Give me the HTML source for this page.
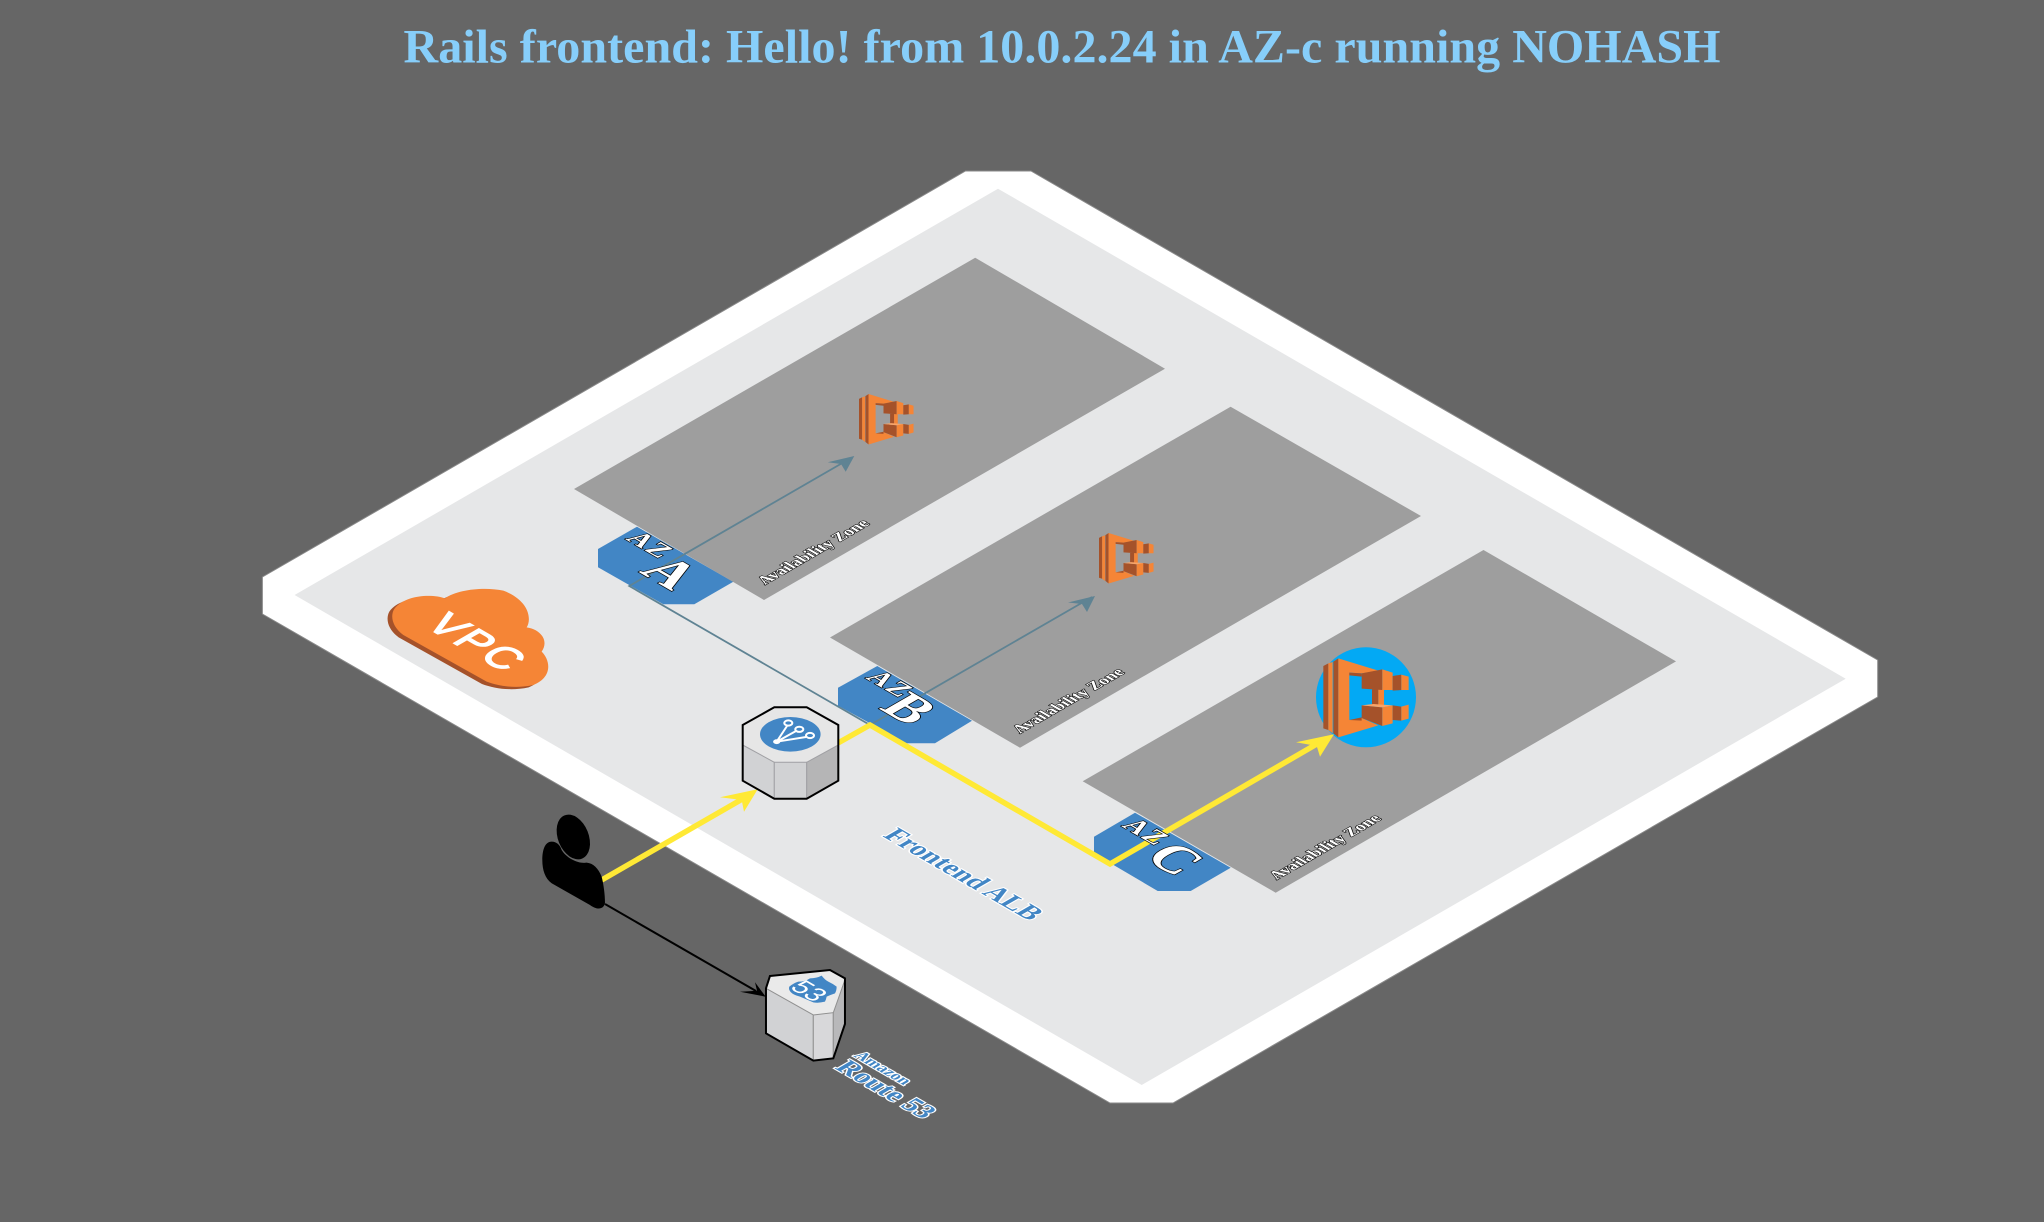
<!DOCTYPE html>
<html>
<head>
<meta charset="utf-8">
<style>
html,body{margin:0;padding:0;background:#666;width:2044px;height:1222px;overflow:hidden}
svg{display:block}
text{font-family:"Liberation Serif",serif;font-weight:bold}
.az{fill:#fff;stroke:#000;stroke-width:1.6px;paint-order:stroke}
.av{fill:#fff;stroke:#000;stroke-width:1.3px;paint-order:stroke}
.blue{fill:#4286c5;stroke:#fff;stroke-width:2.6px;paint-order:stroke}
</style>
</head>
<body>
<svg width="2044" height="1222" viewBox="0 0 2044 1222" xmlns="http://www.w3.org/2000/svg">
<defs>
<g id="ecs">
<path d="M40 78L55 70V270L40 265Z" fill="#a5522a"/>
<path d="M55 70L68 66V280L55 270Z" fill="#f58536"/>
<path d="M70 65L85 55V292L70 280Z" fill="#a5522a"/>
<path d="M85 55L205 92L155 100L118 98V240L155 234L205 256L85 292Z" fill="#f58536"/>
<path d="M118 98L155 100V110L118 106Z" fill="#a5522a"/>
<path d="M118 240L155 232V242L118 240Z" fill="#a5522a"/>
<path d="M186 148H205V196H186Z" fill="#a5522a"/>
<path d="M205 148H222V196H205Z" fill="#f58536"/>
<path d="M155 100L217 88V150L155 146Z" fill="#a5522a"/>
<path d="M217 88L248 98V150L217 150Z" fill="#f58536"/>
<path d="M248 108L274 104V150L248 152Z" fill="#a5522a"/>
<path d="M274 104L296 110V150L274 150Z" fill="#f58536"/>
<path d="M155 196L217 202V258L155 234Z" fill="#a5522a"/>
<path d="M217 202L248 196V250L217 258Z" fill="#f58536"/>
<path d="M155 196L190 192L248 196L217 202Z" fill="#f9a468"/>
<path d="M248 196L274 200V242L248 240Z" fill="#a5522a"/>
<path d="M274 200L296 194V236L274 242Z" fill="#f58536"/>
</g>
</defs>

<rect width="2044" height="1222" fill="#666"/>

<text x="1062" y="62.5" text-anchor="middle" font-size="48" fill="#87cefa" textLength="1317" lengthAdjust="spacing">Rails frontend: Hello! from 10.0.2.24 in AZ-c running NOHASH</text>

<!-- VPC plate -->
<polygon points="965.5,171 1031,171 1877.7,660 1877.7,697 1173,1103 1110,1103 262.4,614 262.4,577" fill="#fff" stroke="#8a8a8a" stroke-width="1"/>
<polygon points="998,188.7 1845.7,678.7 1141.7,1085 294.6,595" fill="#e6e7e8"/>

<!-- AZ tags -->
<polygon points="598,549 637,526.7 733.3,581.7 694.3,604.3 663.3,604.3 598,567.3" fill="#4286c5"/>
<polygon points="838,687.7 877.3,666 972,720.7 935,743.3 906.7,743.3 838,705.7" fill="#4286c5"/>
<polygon points="1094,836.7 1135,812.7 1230.7,867.7 1190.7,891 1157.7,891 1094,853.5" fill="#4286c5"/>

<!-- AZ plates -->
<polygon points="975.2,257.7 1165,368.7 764,600 574,489" fill="#9e9e9e"/>
<polygon points="1230.6,406.7 1421,516 1020,747.7 830,637.5" fill="#9e9e9e"/>
<polygon points="1483.5,550 1676,661.4 1275.7,892.7 1082.7,781.3" fill="#9e9e9e"/>

<!-- ECS icons -->
<use href="#ecs" transform="translate(859,394) scale(.213) translate(-40,-55)"/>
<use href="#ecs" transform="translate(1099,533) scale(.213) translate(-40,-55)"/>
<circle cx="1366" cy="697.3" r="50" fill="#03a9f4"/>
<use href="#ecs" transform="translate(1310,640) scale(.3333)"/>

<!-- gray connectors -->
<g fill="none" stroke="#5f8393" stroke-width="1.8">
<path d="M851 458L629.3 586L870 725L1092 597"/>
</g>
<polygon points="854.3,456 827.7,462.3 841,464 845.7,471.7" fill="#5f8393"/>
<polygon points="1095,596 1068,602.5 1082,604 1087,612" fill="#5f8393"/>

<!-- yellow connectors -->
<path d="M601.7 880L745 797.5" fill="none" stroke="#ffe935" stroke-width="5.5"/>
<polygon points="757.7,789.3 720,797.3 741.7,800 744,811.7" fill="#ffe935"/>
<path d="M838 743L870 725L1110 864L1322 741" fill="none" stroke="#ffe935" stroke-width="5.5"/>
<polygon points="1334,734.3 1296,742.3 1316.7,746 1320,756.7" fill="#ffe935"/>

<!-- Availability Zone labels -->
<text class="av" font-size="16.6" transform="matrix(.866,-.5,.866,.5,765,585)">Availability Zone</text>
<text class="av" font-size="16.6" transform="matrix(.866,-.5,.866,.5,1020,733.7)">Availability Zone</text>
<text class="av" font-size="16.6" transform="matrix(.866,-.5,.866,.5,1276.7,880)">Availability Zone</text>

<!-- AZ letters -->
<text class="az" font-size="27" letter-spacing="2" transform="matrix(.866,.5,-.866,.5,625,539)">AZ</text>
<text class="az" font-size="54" transform="matrix(.866,.5,-.866,.5,638.3,571.7)">A</text>
<text class="az" font-size="27" letter-spacing="2" transform="matrix(.866,.5,-.866,.5,865,678)">AZ</text>
<text class="az" font-size="54" transform="matrix(.866,.5,-.866,.5,878.3,708.3)">B</text>
<text class="az" font-size="27" letter-spacing="2" transform="matrix(.866,.5,-.866,.5,1121,826)">AZ</text>
<text class="az" font-size="54" transform="matrix(.866,.5,-.866,.5,1143,858)">C</text>

<!-- ALB -->
<g stroke-linejoin="miter">
<polygon points="742.7,725 774.3,707.3 806.7,707.3 838.3,725 838.3,745 806.7,762.3 774.3,762.3 742.7,745" fill="#e6e6e6"/>
<polygon points="742.7,745 774.3,762.3 774.3,798.7 742.7,780.7" fill="#d1d2d4" stroke="#a0a0a4" stroke-width="1"/>
<polygon points="774.3,762.3 806.7,762.3 806.7,798.7 774.3,798.7" fill="#d1d2d4" stroke="#a0a0a4" stroke-width="1"/>
<polygon points="806.7,762.3 838.3,745 838.3,780.7 806.7,798.7" fill="#b5b5b6" stroke="#a0a0a4" stroke-width="1"/>
<polygon points="742.7,725 774.3,707.3 806.7,707.3 838.3,725 838.3,780.7 806.7,798.7 774.3,798.7 742.7,780.7" fill="none" stroke="#000" stroke-width="2"/>
</g>
<ellipse cx="790.3" cy="734.3" rx="30.3" ry="17.3" fill="#4286c5"/>
<g fill="none" stroke="#fff" stroke-width="2">
<path d="M776.7 741.7L787 726M776.7 741.7L796 731M776.7 741.7L806 737" />
<ellipse cx="788.3" cy="723" rx="4" ry="2.6"/>
<ellipse cx="799.3" cy="729.3" rx="4" ry="2.6"/>
<ellipse cx="810" cy="735.5" rx="4" ry="2.6"/>
</g>
<ellipse cx="776.7" cy="741.7" rx="3.6" ry="2.4" fill="#fff"/>

<!-- VPC cloud -->
<g transform="translate(370,570) scale(.3333)">
<path d="M72 118C105 72 190 72 225 85C262 58 345 50 400 62C480 92 485 150 470 172C512 178 538 212 515 245C542 272 548 322 490 345C440 356 390 350 350 335L100 195C68 172 60 140 72 118Z" fill="#a5522a" transform="translate(-14,7)"/>
<path d="M72 118C105 72 190 72 225 85C262 58 345 50 400 62C480 92 485 150 470 172C512 178 538 212 515 245C542 272 548 322 490 345C440 356 390 350 350 335L100 195C68 172 60 140 72 118Z" fill="#f58536"/>
</g>
<text font-size="42" letter-spacing="3" fill="#fff" stroke="#fff" stroke-width="1.6" style="font-family:'Liberation Sans',sans-serif;font-weight:normal" transform="matrix(.866,.5,-.866,.5,424,626)">VPC</text>

<!-- User -->
<g transform="translate(370,570) scale(.3333)" fill="#000">
<ellipse cx="610" cy="801" rx="46" ry="70" transform="rotate(-22 610 801)"/>
<path d="M545 815C525 815 517 840 517 870C517 900 525 925 545 940L660 1005C680 1020 700 1020 705 1000C705 970 700 940 695 920C685 895 670 880 650 878C625 882 590 865 575 840C570 825 560 815 545 815Z"/>
</g>

<!-- black connector -->
<path d="M605 904L756 991" fill="none" stroke="#000" stroke-width="2"/>
<polygon points="765.7,996.7 740,991.7 757,990.7 755,982.3" fill="#000"/>

<!-- Route 53 -->
<g transform="translate(520,800) scale(.3333)">
<polygon points="750,528 930,510 975,535 940,638 880,645 738,565" fill="#eaeaea"/>
<polygon points="738,565 880,645 880,782 738,700" fill="#d1d2d4" stroke="#909090" stroke-width="3"/>
<polygon points="880,645 940,638 940,775 880,782" fill="#d8d8da" stroke="#909090" stroke-width="3"/>
<polygon points="940,638 975,540 975,672 940,775" fill="#b8b8ba" stroke="#909090" stroke-width="3"/>
<polygon points="750,528 930,510 975,535 975,672 940,775 880,782 738,700 738,565" fill="none" stroke="#000" stroke-width="6"/>
<path d="M905 527Q915 540 925 545Q940 552 950 560Q950 572 945 580Q930 585 920 590Q918 600 915 605Q895 610 880 607L840 590Q820 585 812 576Q805 568 808 560Q820 550 835 545Q855 545 870 535Q890 535 905 527Z" fill="#4286c5"/>
</g>
<text font-size="26" fill="#fff" style="font-family:'Liberation Sans',sans-serif;font-weight:normal" transform="matrix(.866,.5,-.866,.5,789,988)">53</text>

<!-- Blue labels -->
<text class="blue" font-size="27.4" transform="matrix(.866,.5,-.866,.5,882,836)">Frontend ALB</text>
<text class="blue" font-size="16.5" transform="matrix(.866,.5,-.866,.5,853,1056)">Amazon</text>
<text class="blue" font-size="27" transform="matrix(.866,.5,-.866,.5,834,1068)">Route 53</text>
</svg>
</body>
</html>
